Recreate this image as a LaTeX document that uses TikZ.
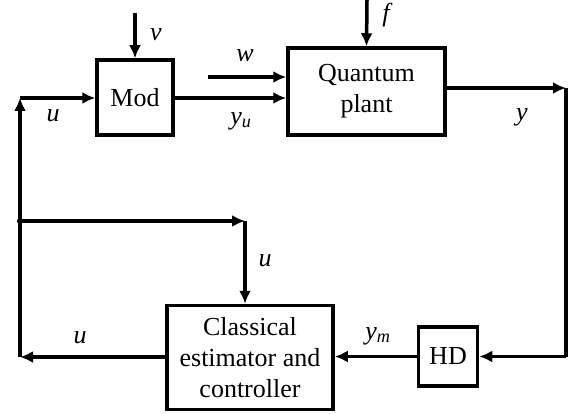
\documentclass[tikz,border=0pt]{standalone}
\usepackage{fontspec}
\setmainfont{Liberation Serif}
\usetikzlibrary{arrows.meta}
\begin{document}
\begin{tikzpicture}[x=1pt,y=-1pt,
  blk/.style={draw,line width=3.5pt,align=center,inner sep=0pt,font=\fontsize{26}{31}\selectfont},
  arr/.style={line width=3.5pt,-{Latex[length=13pt,width=12pt]}},
  wire/.style={line width=3.5pt},
  lbl/.style={font=\fontsize{26}{30}\selectfont\itshape}]
\useasboundingbox (0,0) rectangle (577,414);
\node[blk,minimum width=76pt,minimum height=75pt] (mod) at (135,97.5) {Mod};
\node[blk,minimum width=157pt,minimum height=87pt] (qp) at (366.5,91.5) {Quantum\\plant};
\node[blk,minimum width=59pt,minimum height=59pt] (hd) at (448,356.5) {HD};
\node[blk,minimum width=166pt,minimum height=104pt] (ce) at (250,357.5) {Classical\\estimator and\\controller};
\coordinate (vtop) at (135,13);
\coordinate (ftop) at (367,0);
\coordinate (ws) at (208,77);
\coordinate (yc) at (566,88);
\coordinate (bl) at (20,357);
\coordinate (tl) at (20,98);
\coordinate (br) at (20,221);
\coordinate (bc) at (245,221);
\draw[arr] (vtop) -- (mod.north);
\draw[arr] (ftop) -- (qp.north);
\draw[arr] (ws) -- (qp.west|-ws);
\draw[arr] (mod.east|-tl) -- (qp.west|-tl);
\draw[arr] (qp.east|-yc) -- (yc);
\draw[wire] (yc) -- (yc|-hd);
\draw[arr] (yc|-hd) -- (hd.east);
\draw[arr] (hd.west) -- (ce.east|-hd);
\draw[arr] (ce.west|-bl) -- (bl);
\draw[arr] (bl) -- (tl);
\draw[arr] (tl) -- (mod.west|-tl);
\draw[arr] (br) -- (bc);
\draw[arr] (bc) -- (bc|-ce.north);
\fill (br) circle (3pt);
\node[lbl] (lv) at (156,35) {v};
\node[lbl] (lf) at (386,15) {f};
\node[lbl] (lw) at (245,56) {w};
\node[lbl] (lyu) at (241,121) {y\textsubscript{u}};
\node[lbl] (lu1) at (53,116) {u};
\node[lbl] (ly) at (522,117) {y};
\node[lbl] (lu2) at (265,261) {u};
\node[lbl] (lu3) at (80,338) {u};
\node[lbl] (lym) at (378,336) {y\textsubscript{m}};
\end{tikzpicture}
\end{document}
